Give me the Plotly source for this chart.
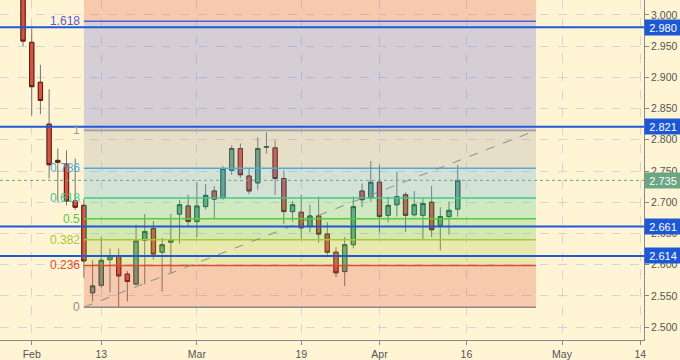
import plotly.graph_objects as go
import pandas as pd

# ---------------- data ----------------
dates = ["2018-01-31", "2018-02-01", "2018-02-02", "2018-02-05", "2018-02-06", "2018-02-07",
         "2018-02-08", "2018-02-09", "2018-02-12", "2018-02-13", "2018-02-14", "2018-02-15",
         "2018-02-16", "2018-02-20", "2018-02-21", "2018-02-22", "2018-02-23", "2018-02-26",
         "2018-02-27", "2018-02-28", "2018-03-01", "2018-03-02", "2018-03-05", "2018-03-06",
         "2018-03-07", "2018-03-08", "2018-03-09", "2018-03-12", "2018-03-13", "2018-03-14",
         "2018-03-15", "2018-03-16", "2018-03-19", "2018-03-20", "2018-03-21", "2018-03-22",
         "2018-03-23", "2018-03-26", "2018-03-27", "2018-03-28", "2018-03-29", "2018-04-02",
         "2018-04-03", "2018-04-04", "2018-04-05", "2018-04-06", "2018-04-09", "2018-04-10",
         "2018-04-11", "2018-04-12", "2018-04-13"]
opens = [3.040, 2.956, 2.892, 2.825, 2.767, 2.761, 2.702, 2.695, 2.555, 2.567, 2.608, 2.614,
         2.585, 2.569, 2.639, 2.658, 2.620, 2.636, 2.681, 2.694, 2.669, 2.693, 2.718, 2.707,
         2.751, 2.786, 2.742, 2.731, 2.788, 2.787, 2.738, 2.685, 2.684, 2.661, 2.678, 2.649,
         2.620, 2.589, 2.632, 2.718, 2.707, 2.732, 2.679, 2.696, 2.712, 2.680, 2.679, 2.700,
         2.663, 2.677, 2.689]
highs = [3.050, 2.978, 2.920, 2.881, 2.786, 2.783, 2.770, 2.705, 2.607, 2.644, 2.626, 2.626,
         2.590, 2.664, 2.681, 2.670, 2.643, 2.681, 2.704, 2.712, 2.732, 2.729, 2.726, 2.758,
         2.791, 2.794, 2.754, 2.804, 2.812, 2.799, 2.751, 2.702, 2.712, 2.696, 2.709, 2.668,
         2.628, 2.644, 2.709, 2.730, 2.766, 2.760, 2.709, 2.748, 2.716, 2.718, 2.706, 2.726,
         2.692, 2.701, 2.760]
lows = [2.950, 2.839, 2.841, 2.738, 2.702, 2.695, 2.688, 2.579, 2.541, 2.563, 2.556, 2.532,
        2.541, 2.567, 2.569, 2.608, 2.557, 2.587, 2.634, 2.660, 2.644, 2.688, 2.673, 2.704,
        2.744, 2.739, 2.713, 2.720, 2.778, 2.712, 2.665, 2.669, 2.642, 2.652, 2.635, 2.612,
        2.580, 2.566, 2.626, 2.692, 2.700, 2.651, 2.668, 2.677, 2.652, 2.677, 2.641, 2.644,
        2.623, 2.648, 2.677]
closes = [2.958, 2.885, 2.863, 2.760, 2.764, 2.702, 2.692, 2.606, 2.566, 2.607, 2.614, 2.582,
          2.573, 2.638, 2.653, 2.617, 2.632, 2.640, 2.696, 2.669, 2.694, 2.711, 2.705, 2.754,
          2.786, 2.744, 2.718, 2.786, 2.789, 2.738, 2.685, 2.696, 2.659, 2.678, 2.649, 2.620,
          2.587, 2.632, 2.693, 2.704, 2.732, 2.677, 2.695, 2.709, 2.679, 2.696, 2.698, 2.656,
          2.677, 2.687, 2.735]

fib_levels = [0, 0.236, 0.382, 0.5, 0.618, 0.786, 1, 1.618]
fib_labels = ["0", "0.236", "0.382", "0.5", "0.618", "0.786", "1", "1.618"]
fib_colors = ["#8a8a8a", "#e04a36", "#a9c638", "#55c944", "#45c98e", "#52abd6", "#9a9a9a", "#5a5ad6"]
fib_top_color = "#e04a36"
fib_low = 2.532
fib_high = 2.815
fib_start = "2018-02-09"
fib_end = "2018-04-26"

sr_levels = [2.980, 2.821, 2.661, 2.614]
last_price = 2.735

tick_dates = ["2018-02-01", "2018-02-13", "2018-03-01", "2018-03-19",
              "2018-04-02", "2018-04-16", "2018-05-01", "2018-05-14"]
tick_text = ["Feb", "13", "Mar", "19", "Apr", "16", "May", "14"]
holidays = ["2018-02-19", "2018-03-30"]

# ---------------- figure ----------------
noon = pd.Timedelta(hours=12)
x = pd.to_datetime(dates) + noon
body_hi = [max(o, c) for o, c in zip(opens, closes)]
body_lo = [min(o, c) for o, c in zip(opens, closes)]

UP_FILL, UP_LINE = "#6ba583", "#225437"
DN_FILL, DN_LINE = "#d75442", "#5b1a13"
WICK = "#737375"
BG = "#fff4d4"

fig = go.Figure()
# wicks
fig.add_trace(go.Candlestick(
    x=x, open=opens, high=highs, low=lows, close=closes,
    increasing=dict(fillcolor=UP_FILL, line=dict(color=WICK, width=1)),
    decreasing=dict(fillcolor=DN_FILL, line=dict(color=WICK, width=1)),
    hoverinfo="skip", showlegend=False))
# bodies
fig.add_trace(go.Candlestick(
    x=x, open=opens, high=body_hi, low=body_lo, close=closes,
    increasing=dict(fillcolor=UP_FILL, line=dict(color=UP_LINE, width=1)),
    decreasing=dict(fillcolor=DN_FILL, line=dict(color=DN_LINE, width=1)),
    showlegend=False))


def rgba(hexc, a):
    h = hexc.lstrip("#")
    r, g, b = int(h[0:2], 16), int(h[2:4], 16), int(h[4:6], 16)
    return f"rgba({r},{g},{b},{a})"


fs = pd.Timestamp(fib_start) + noon
fe = pd.Timestamp(fib_end) + noon
rng = fib_high - fib_low
vals = [fib_low + lv * rng for lv in fib_levels]
Y0, Y1 = 2.4794, 3.0238

shapes = []
# bands
for i in range(1, len(vals)):
    shapes.append(dict(type="rect", xref="x", yref="y", x0=fs, x1=fe, y0=vals[i - 1], y1=vals[i],
                       fillcolor=rgba(fib_colors[i], 0.25), line=dict(width=0), layer="above"))
shapes.append(dict(type="rect", xref="x", yref="y", x0=fs, x1=fe, y0=vals[-1], y1=Y1,
                   fillcolor=rgba(fib_top_color, 0.25), line=dict(width=0), layer="above"))
# level lines
for v, c in zip(vals, fib_colors):
    shapes.append(dict(type="line", xref="x", yref="y", x0=fs, x1=fe, y0=v, y1=v,
                       line=dict(color=c, width=1.5), layer="above"))
# trend line
shapes.append(dict(type="line", xref="x", yref="y", x0=fs, x1=fe, y0=fib_low, y1=fib_high,
                   line=dict(color="#8c8c8c", width=1, dash="dash"), layer="above"))
# support / resistance lines
for v in sr_levels:
    shapes.append(dict(type="line", xref="paper", yref="y", x0=0, x1=1, y0=v, y1=v,
                       line=dict(color="#2059d6", width=2), layer="above"))
# last price line
shapes.append(dict(type="line", xref="paper", yref="y", x0=0, x1=1, y0=last_price, y1=last_price,
                   line=dict(color=UP_FILL, width=1, dash="dot"), layer="above"))

annotations = []
for v, lab, c in zip(vals, fib_labels, fib_colors):
    annotations.append(dict(x=fs, y=v, xref="x", yref="y", text=lab, showarrow=False,
                            xanchor="right", yanchor="middle", xshift=-2,
                            font=dict(family="Liberation Sans, Arial", size=12, color=c)))
for v in sr_levels:
    annotations.append(dict(x=1, y=v, xref="paper", yref="y", text=f"{v:.3f}", showarrow=False,
                            xanchor="left", yanchor="middle", width=33, align="center",
                            bgcolor="#1c58d6", borderpad=1.5,
                            font=dict(family="Liberation Sans, Arial", size=11, color="white")))
annotations.append(dict(x=1, y=last_price, xref="paper", yref="y", text=f"{last_price:.3f}",
                        showarrow=False, xanchor="left", yanchor="middle", width=33, align="center",
                        bgcolor=UP_FILL, borderpad=1.5,
                        font=dict(family="Liberation Sans, Arial", size=11, color="white")))

fig.update_layout(
    width=680, height=360,
    margin=dict(l=0, r=36, t=0, b=17),
    paper_bgcolor=BG, plot_bgcolor=BG,
    showlegend=False,
    shapes=shapes, annotations=annotations,
    font=dict(family="Liberation Sans, Arial", size=10.5, color="#555555"),
    xaxis=dict(
        type="date",
        range=[pd.Timestamp("2018-01-26 20:24"), pd.Timestamp("2018-05-14 22:19")],
        rangebreaks=[dict(bounds=["sat", "mon"]), dict(values=holidays)],
        rangeslider=dict(visible=False),
        tickvals=[pd.Timestamp(d) + noon for d in tick_dates], ticktext=tick_text,
        ticks="outside", ticklen=4, tickcolor="#888888",
        showline=True, linecolor="#888888", linewidth=1,
        showgrid=True, gridcolor="rgba(170,170,210,0.45)", griddash="dash", gridwidth=1,
        zeroline=False, fixedrange=True,
    ),
    yaxis=dict(
        side="right", range=[Y0, Y1], dtick=0.05, tick0=2.5, tickformat=".3f",
        ticks="outside", ticklen=4, tickcolor="#888888",
        showline=True, linecolor="#888888", linewidth=1,
        showgrid=True, gridcolor="rgba(170,170,210,0.45)", griddash="dash", gridwidth=1,
        zeroline=False, fixedrange=True,
    ),
)

fig.write_html("out.html")
